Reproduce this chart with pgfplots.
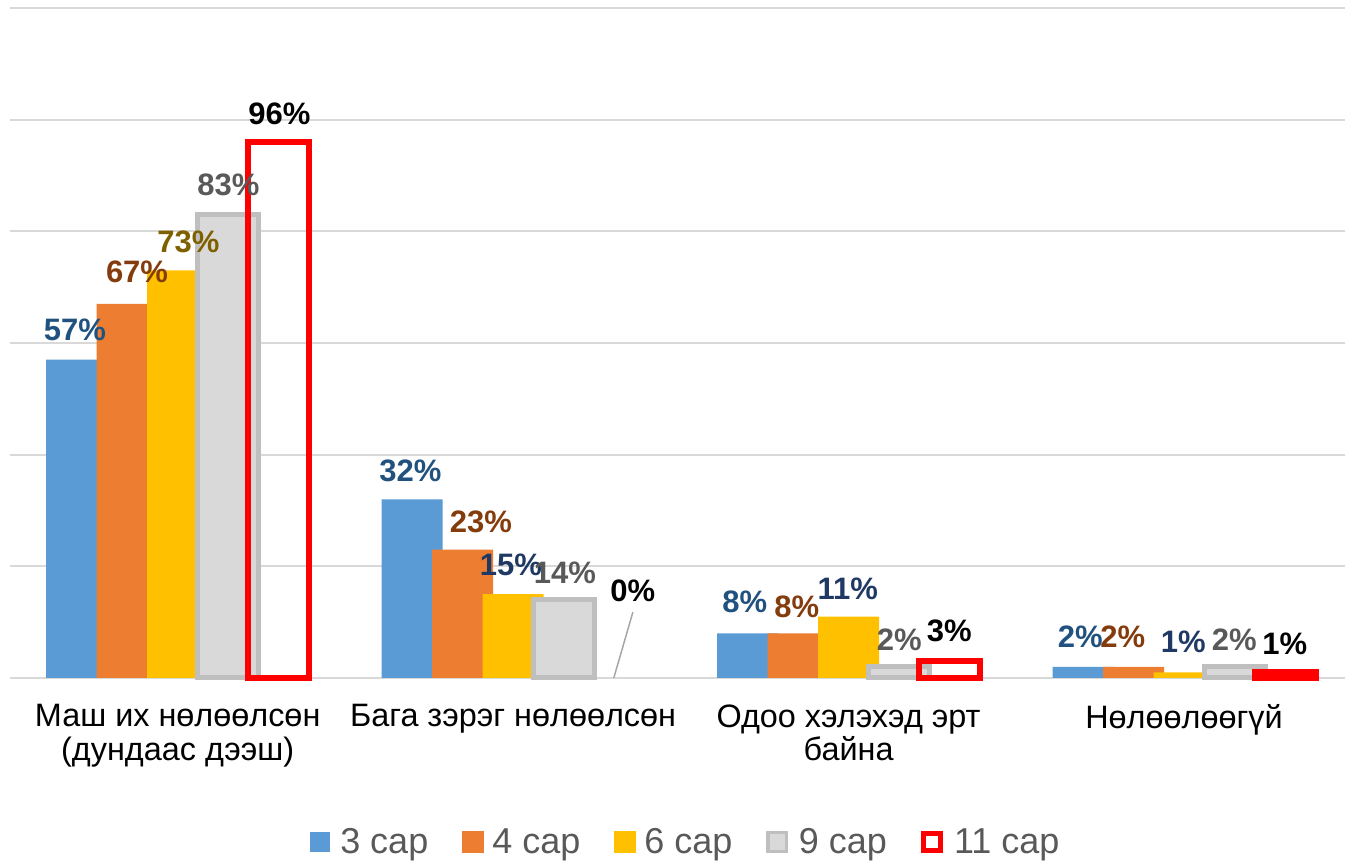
\documentclass[border=0pt]{standalone}
\usepackage{fontspec}
\setmainfont{Liberation Sans}
\usepackage{pgfplots}
\pgfplotsset{compat=1.18}
\usepackage{pgfplotstable}

\definecolor{c1}{HTML}{5B9BD5}
\definecolor{c2}{HTML}{ED7D31}
\definecolor{c3}{HTML}{FFC000}
\definecolor{c4f}{HTML}{D9D9D9}
\definecolor{c4b}{HTML}{BFBFBF}
\definecolor{c5}{HTML}{FF0000}
\definecolor{L1}{HTML}{21527F}
\definecolor{L2}{HTML}{843C0C}
\definecolor{L3a}{HTML}{7F6000}
\definecolor{L3b}{HTML}{203864}
\definecolor{L4}{HTML}{595959}
\definecolor{gridc}{HTML}{D9D9D9}
\definecolor{legtext}{HTML}{595959}
\definecolor{leadc}{HTML}{A6A6A6}

% x = category, y = value (%), sx/sy = label position offset (axis units)
\pgfplotstableread{
x y sx sy
0 57 -0.3065 3.367
1 32 -0.3065 3.081
2 8 -0.3095 3.582
3 2 -0.3095 3.403
}\tblA
\pgfplotstableread{
x y sx sy
0 67 -0.1213 3.761
1 23 -0.0963 2.973
2 8 -0.1541 2.722
3 2 -0.1828 3.367
}\tblB
\pgfplotstableread{
x y sx sy
0 73 0.0322 3.116
1 15 -0.0066 3.260
2 11 -0.0024 2.973
3 1 -0.0024 3.475
}\tblC
\pgfplotstableread{
x y sx sy
0 83 0.1512 3.331
1 14 0.1541 2.830
2 2 0.1512 2.830
3 2 0.1500 2.830
}\tblD
\pgfplotstableread{
x y sx sy
0 96 0.3035 3.045
1 0 0.3570 13.600
2 3 0.3005 3.439
3 1 0.3005 3.116
}\tblE

\pgfplotsset{
  mybar/.style={ybar, bar width=30.5pt, bar shift=#1},
  lblp/.style={only marks, mark=*, mark size=0pt, mark options={draw=none, fill=none},
    forget plot, point meta=explicit,
    nodes near coords={\pgfmathprintnumber[assume math mode=true]{\pgfplotspointmeta}\%},
    every node near coord/.append style={font=\fontsize{15.5pt}{18pt}\selectfont\bfseries,
      text=#1, anchor=south, inner sep=0pt}},
}

\begin{document}
\begin{tikzpicture}
\path[use as bounding box] (0,0) rectangle (672.5pt,431pt);
\begin{axis}[
  at={(5pt,92pt)}, anchor=south west,
  scale only axis, width=667.5pt, height=335pt,
  xmin=-0.5, xmax=3.48, ymin=0, ymax=120,
  /pgf/number format/assume math mode=true,
  axis line style={draw=none},
  major tick length=0pt,
  ytick={0,20,...,120}, yticklabels={},
  ymajorgrids, grid style={draw=gridc, line width=1pt},
  xtick={0,1,2,3},
  xticklabels={{Маш их нөлөөлсөн\\(дундаас дээш)},{Бага зэрэг нөлөөлсөн},{Одоо хэлэхэд эрт\\байна},{Нөлөөлөөгүй}},
  xticklabel style={align=center, font=\fontsize{16.2pt}{16.7pt}\selectfont, text=black, anchor=north, inner sep=0pt, yshift=-13pt},
  clip=false,
  legend columns=5,
  legend style={at={(0.507,-0.245)}, anchor=center, draw=none, fill=none,
    font=\fontsize{18pt}{20pt}\selectfont, text=legtext,
    /tikz/every even column/.append style={column sep=15pt}},
]
\addplot[mybar=-50.5pt, fill=c1, draw=none,
  legend image code/.code={\fill[c1] (0pt,-5pt) rectangle (10pt,5pt); \path (13pt,0pt);}]
  table[x=x,y=y]{\tblA};
\addlegendentry{3 сар}
\addplot[mybar=-25.25pt, fill=c2, draw=none,
  legend image code/.code={\fill[c2] (0pt,-5.5pt) rectangle (11pt,5.5pt); \path (13pt,0pt);}]
  table[x=x,y=y]{\tblB};
\addlegendentry{4 сар}
\addplot[mybar=0pt, fill=c3, draw=none,
  legend image code/.code={\fill[c3] (0pt,-5.5pt) rectangle (11pt,5.5pt); \path (13pt,0pt);}]
  table[x=x,y=y]{\tblC};
\addlegendentry{6 сар}
\addplot[mybar=25.25pt, fill=c4f, draw=c4b, line width=2.5pt,
  legend image code/.code={\draw[fill=c4f, draw=c4b, line width=1.6pt] (0.8pt,-4.7pt) rectangle (10.2pt,4.7pt); \path (13pt,0pt);}]
  table[x=x,y=y]{\tblD};
\addlegendentry{9 сар}
\addplot[mybar=50.5pt, fill=none, draw=c5, line width=3pt,
  skip coords between index={1}{2},
  legend image code/.code={\draw[fill=white, draw=c5, line width=2.6pt] (1.3pt,-4.2pt) rectangle (9.7pt,4.2pt); \path (13pt,0pt);}]
  table[x=x,y=y]{\tblE};
\addlegendentry{11 сар}

% data labels (drawn after all bars)
\addplot[lblp=L1] table[x expr=\thisrow{x}+\thisrow{sx}, y expr=\thisrow{y}+\thisrow{sy}, meta=y]{\tblA};
\addplot[lblp=L2] table[x expr=\thisrow{x}+\thisrow{sx}, y expr=\thisrow{y}+\thisrow{sy}, meta=y]{\tblB};
\addplot[lblp=L3a, skip coords between index={1}{4}] table[x expr=\thisrow{x}+\thisrow{sx}, y expr=\thisrow{y}+\thisrow{sy}, meta=y]{\tblC};
\addplot[lblp=L3b, skip coords between index={0}{1}] table[x expr=\thisrow{x}+\thisrow{sx}, y expr=\thisrow{y}+\thisrow{sy}, meta=y]{\tblC};
\addplot[lblp=L4] table[x expr=\thisrow{x}+\thisrow{sx}, y expr=\thisrow{y}+\thisrow{sy}, meta=y]{\tblD};
\addplot[lblp=black] table[x expr=\thisrow{x}+\thisrow{sx}, y expr=\thisrow{y}+\thisrow{sy}, meta=y]{\tblE};

% leader line of the 0% label
\draw[leadc, line width=0.75pt] (axis cs:1.357,11.8) -- (axis cs:1.300,0);
\end{axis}
\end{tikzpicture}
\end{document}
